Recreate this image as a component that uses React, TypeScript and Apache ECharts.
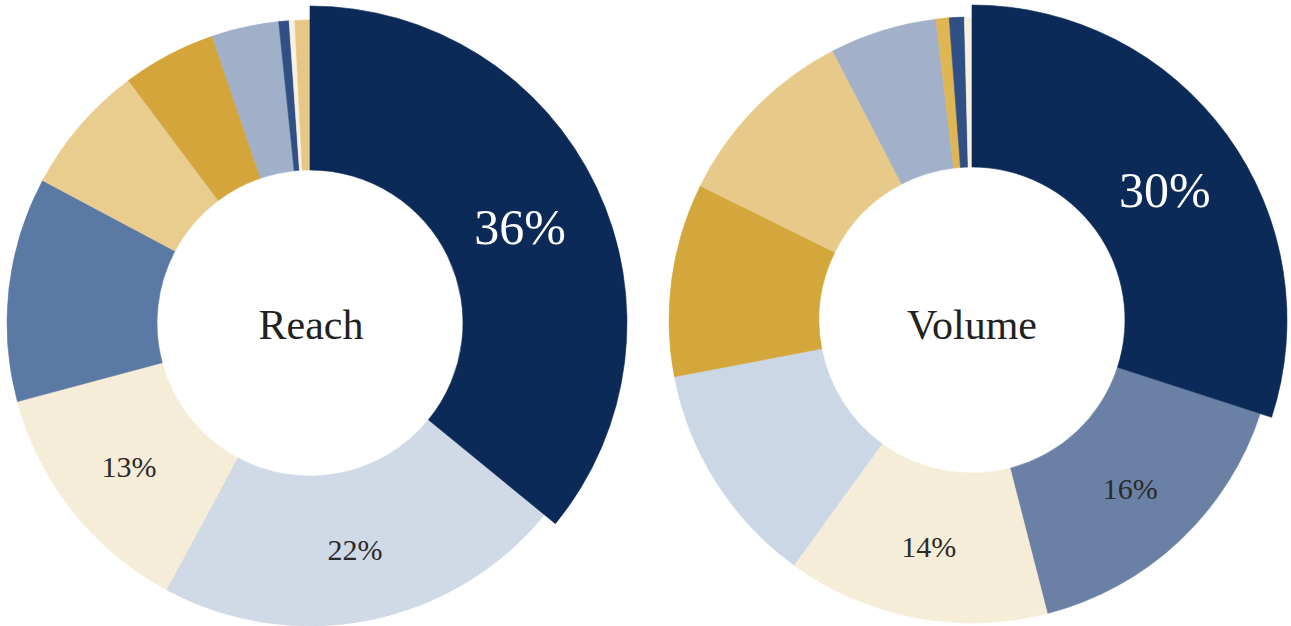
import React, { useEffect, useRef } from "react";
import * as echarts from "echarts";

// Reach donut (clockwise from 12 o'clock)
const reachNames = ["Navy", "Light blue", "Cream", "Slate", "Light gold", "Gold", "Grey blue", "Mid blue", "Pale cream", "Pale gold"];
const reachValues = [36, 22, 13, 12, 7, 5, 3.6, 0.55, 0.3, 0.8];
const reachColors = ["#0b2a58", "#d0d9e6", "#f6edd9", "#5b79a5", "#e9cd8f", "#d4a53a", "#a0b0c8", "#2f4f85", "#f8f1e2", "#e6c783"];

// Volume donut (clockwise from 12 o'clock)
const volumeNames = ["Navy", "Slate", "Cream", "Light blue", "Gold", "Light gold", "Grey blue", "Pale gold", "Mid blue", "Pale cream"];
const volumeValues = [30, 16, 14, 12, 10.3, 10.1, 5.7, 0.7, 0.8, 0.4];
const volumeColors = ["#0b2a58", "#6a81a5", "#f6edd9", "#ccd7e6", "#d3a73c", "#e7ca8a", "#a2b1c9", "#e0b652", "#2f4f85", "#f8f1e2"];

// slices that carry a percentage label
const reachLabelled = [true, true, true, false, false, false, false, false, false, false];
const volumeLabelled = [true, true, true, false, false, false, false, false, false, false];

const FONT = '"Liberation Serif", "DejaVu Serif", serif';
const TRANSPARENT = "rgba(0,0,0,0)";

function buildSeries(
  names: string[],
  values: number[],
  colors: string[],
  labelled: boolean[],
  center: [number, number],
  inner: number,
  outerMain: number,
  outerBig: number,
  leadOffset: [number, number]
) {
  const base = {
    type: "pie",
    center,
    startAngle: 90,
    clockwise: true,
    avoidLabelOverlap: false,
    labelLine: { show: false },
    emphasis: { disabled: true },
    silent: true,
  };
  const rest = {
    ...base,
    radius: [inner, outerMain],
    data: names.map((n, i) => {
      const c = i === 0 ? TRANSPARENT : colors[i];
      return {
        name: n,
        value: values[i],
        itemStyle: { color: c, borderColor: c, borderWidth: i === 0 ? 0 : 0.6 },
        label: {
          show: i !== 0 && labelled[i],
          position: "inside",
          color: "#2a2a2a",
          fontFamily: FONT,
          fontSize: 30,
          formatter: (p: any) => `${Math.round(p.percent)}%`,
        },
      };
    }),
  };
  const lead = {
    ...base,
    radius: [inner, outerBig],
    data: names.map((n, i) => {
      const c = i === 0 ? colors[i] : TRANSPARENT;
      return {
        name: n,
        value: values[i],
        itemStyle: { color: c, borderColor: c, borderWidth: i === 0 ? 0.6 : 0 },
        label: {
          show: i === 0 && labelled[i],
          position: "inside",
          color: "#ffffff",
          fontFamily: FONT,
          fontSize: 50,
          offset: leadOffset,
          formatter: (p: any) => `${Math.round(p.percent)}%`,
        },
      };
    }),
  };
  return [rest, lead];
}

export default function App() {
  const ref = useRef<HTMLDivElement>(null);

  useEffect(() => {
    if (!ref.current) return;
    const chart = echarts.init(ref.current, null, { renderer: "svg" });
    chart.setOption({
      animation: false,
      backgroundColor: "#ffffff",
      series: [
        ...buildSeries(reachNames, reachValues, reachColors, reachLabelled, [310, 323], 153, 303, 317, [-5, 6]),
        ...buildSeries(volumeNames, volumeValues, volumeColors, volumeLabelled, [972, 320], 153, 303, 315, [1, 9]),
      ],
      graphic: [
        {
          type: "text",
          x: 311,
          y: 325,
          style: { text: "Reach", fill: "#222222", font: `42px ${FONT}`, align: "center", verticalAlign: "middle" },
        },
        {
          type: "text",
          x: 972,
          y: 325,
          style: { text: "Volume", fill: "#222222", font: `42px ${FONT}`, align: "center", verticalAlign: "middle" },
        },
      ],
    });
    return () => chart.dispose();
  }, []);

  return (
    <div
      ref={ref}
      style={{ position: "absolute", left: 0, top: 0, width: 1291, height: 626, background: "#fff" }}
    />
  );
}
